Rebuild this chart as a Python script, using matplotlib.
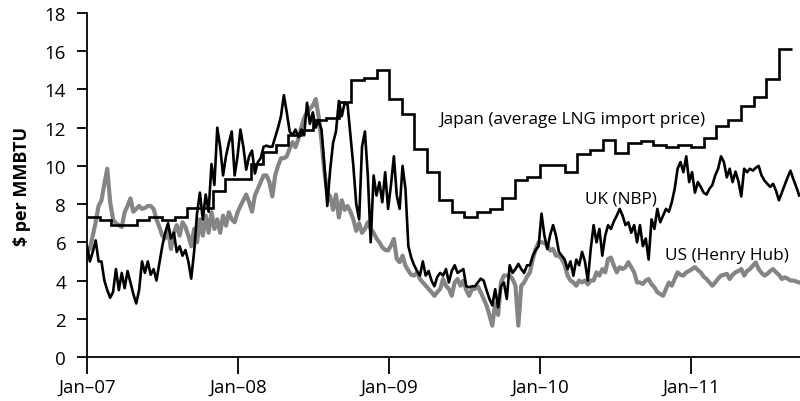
import numpy as np
import pandas as pd
import matplotlib
matplotlib.use("Agg")
import matplotlib.pyplot as plt
import matplotlib.dates as mdates

plt.rcParams['font.family'] = ['Open Sans', 'DejaVu Sans']

# Japan average LNG import price, monthly, Jan-07 .. Aug-11
japan = [7.33, 7.15, 6.9, 6.9, 7.15, 7.33, 7.15, 7.3, 7.8, 7.8, 8.7, 9.3,
         9.3, 10.1, 10.7, 11.1, 11.6, 11.9, 12.4, 12.5, 13.35, 14.5, 14.6, 15.0,
         13.5, 12.7, 10.9, 9.7, 8.2, 7.6, 7.3, 7.6, 7.75, 8.3, 9.27, 9.4,
         10.07, 10.07, 9.7, 10.6, 10.85, 11.36, 10.66, 11.18, 11.3, 11.1, 11.0, 11.1,
         10.98, 11.47, 12.1, 12.4, 13.15, 13.6, 14.55, 16.1]

# UK NBP, weekly from first week of Jan-07
uk = [5.8, 5.0, 5.5, 6.1, 5.0, 5.0, 4.0, 3.5, 3.1, 3.4,
      4.6, 3.5, 4.4, 3.6, 4.5, 3.9, 3.3, 2.8, 3.5, 5.0,
      4.4, 5.0, 4.3, 4.6, 4.0, 4.9, 5.8, 6.5, 7.0, 6.2,
      6.5, 5.5, 5.8, 5.3, 5.6, 5.0, 4.1, 5.5, 7.5, 8.6,
      7.2, 8.5, 7.6, 10.1, 9.0, 12.0, 11.0, 9.5, 10.5, 11.2,
      11.8, 9.5, 10.5, 11.9, 11.0, 9.8, 10.5, 10.8, 9.6, 10.2,
      10.4, 11.0, 11.06, 11.0, 11.0, 11.5, 12.0, 12.6, 13.7, 12.8,
      11.8, 11.6, 11.9, 11.5, 11.9, 11.6, 13.3, 12.2, 12.8, 12.0,
      12.4, 11.9, 10.0, 7.9, 9.8, 11.2, 11.8, 13.4, 12.6, 13.3,
      13.2, 11.6, 10.0, 8.0, 7.2, 11.0, 11.8, 9.5, 6.0, 9.5,
      8.45, 9.15, 8.1, 9.67, 7.75, 9.0, 10.5, 8.45, 7.75, 10.0,
      8.8, 5.8, 5.2, 4.8, 4.5, 4.26, 5.0, 4.26, 4.5, 4.0,
      3.7, 4.2, 4.4, 4.26, 4.6, 3.9, 4.5, 4.8, 4.4, 4.5,
      4.6, 3.7, 3.65, 3.7, 3.7, 3.9, 4.1, 4.0, 3.5, 3.04,
      2.7, 3.55, 2.6, 3.7, 3.9, 3.04, 4.8, 4.4, 4.6, 4.87,
      4.6, 4.4, 4.8, 4.8, 5.3, 5.6, 5.8, 7.5, 6.35, 5.65,
      6.4, 6.9, 6.35, 5.5, 5.3, 5.1, 4.6, 5.0, 4.25, 5.1,
      4.8, 5.5, 5.0, 4.0, 5.65, 6.9, 6.0, 6.7, 5.3, 6.35,
      6.9, 6.7, 7.1, 7.4, 7.75, 7.4, 6.9, 7.05, 6.5, 6.9,
      6.0, 6.9, 5.8, 6.2, 5.1, 7.2, 6.7, 7.75, 7.05, 7.4,
      7.75, 7.6, 8.1, 8.8, 9.85, 10.2, 9.67, 10.5, 9.15, 9.67,
      8.6, 9.15, 8.9, 8.6, 8.5, 8.8, 9.0, 9.5, 9.85, 10.5,
      10.2, 9.4, 9.85, 9.15, 9.7, 9.2, 8.4, 9.85, 9.67, 9.85,
      9.75, 9.9, 10.0, 9.5, 9.23, 9.06, 8.9, 9.06, 8.7, 8.2,
      8.6, 9.0, 9.4, 9.75, 9.3, 8.9, 8.45]

# US Henry Hub, weekly from first week of Jan-07
us = [5.5, 5.65, 6.35, 7.05, 7.9, 8.2, 9.06, 9.85, 8.1, 7.2,
      7.0, 6.9, 6.8, 7.57, 7.9, 8.3, 7.6, 7.75, 7.9, 7.75,
      7.8, 7.9, 7.9, 7.75, 7.2, 6.8, 6.35, 6.2, 6.7, 5.65,
      6.5, 6.9, 6.35, 7.05, 6.8, 6.35, 5.8, 6.7, 6.0, 7.2,
      6.35, 7.4, 6.5, 7.57, 6.7, 7.2, 6.5, 7.4, 6.87, 7.57,
      7.2, 7.05, 7.57, 7.9, 8.2, 8.5, 8.1, 7.6, 8.45, 8.8,
      9.15, 9.5, 9.5, 9.15, 8.4, 9.5, 10.0, 10.4, 10.4, 10.5,
      10.9, 11.24, 10.98, 11.4, 12.0, 12.5, 12.8, 13.0, 13.15, 13.5,
      12.6, 11.3, 9.7, 8.6, 8.4, 7.7, 8.5, 7.3, 8.2, 7.7,
      7.9, 7.6, 7.2, 6.6, 7.0, 6.5, 6.7, 7.05, 6.7, 6.5,
      6.2, 6.0, 5.74, 5.6, 5.57, 5.83, 6.18, 5.13, 4.96, 5.3,
      4.78, 4.52, 4.3, 4.26, 4.43, 4.08, 3.9, 3.73, 3.56, 3.39,
      3.2, 3.4, 3.56, 4.08, 3.73, 3.56, 3.2, 3.9, 4.08, 3.73,
      4.0, 3.5, 3.2, 3.56, 3.56, 3.7, 3.39, 3.04, 2.7, 2.2,
      1.64, 2.8, 2.2, 3.9, 4.26, 4.26, 4.26, 4.08, 3.73, 1.64,
      3.73, 3.9, 4.2, 4.43, 5.13, 5.65, 6.0, 6.0, 5.97, 5.83,
      5.57, 5.65, 5.3, 5.3, 5.13, 4.8, 4.26, 4.0, 3.9, 3.73,
      4.0, 3.9, 4.0, 3.8, 4.0, 4.0, 4.43, 4.26, 4.6, 4.43,
      5.13, 5.2, 4.78, 4.43, 4.7, 4.6, 4.7, 4.96, 4.7, 4.43,
      3.9, 3.9, 3.82, 4.0, 4.08, 3.8, 3.65, 3.39, 3.3, 3.2,
      3.56, 3.9, 3.73, 4.08, 4.43, 4.3, 4.26, 4.43, 4.5, 4.6,
      4.7, 4.55, 4.43, 4.2, 4.08, 3.9, 3.73, 3.9, 4.1, 4.26,
      4.3, 4.35, 4.08, 4.3, 4.43, 4.5, 4.6, 4.26, 4.5, 4.6,
      4.78, 4.95, 4.6, 4.4, 4.26, 4.35, 4.5, 4.6, 4.43, 4.3,
      4.08, 4.17, 4.1, 4.0, 4.0, 3.95, 3.9]

weeks = pd.date_range("2007-01-01", periods=len(uk), freq="7D")
months = pd.date_range("2007-01-01", periods=len(japan) + 1, freq="MS")

fig = plt.figure(figsize=(8, 4.02), dpi=100)
ax = fig.add_axes([0.10875, 0.1095, 0.89125, 0.8557])

ax.plot(weeks, us, color="#858585", lw=3.0, zorder=2)
ax.plot(weeks, uk, color="black", lw=1.9, zorder=3)
ax.stairs(japan, mdates.date2num(months), baseline=None, color="black", lw=1.9, zorder=4)

ax.set_xlim(pd.Timestamp("2007-01-01"), pd.Timestamp("2011-09-21"))
ax.set_ylim(0, 18)
ax.set_yticks(range(0, 19, 2))
ax.xaxis.set_major_locator(mdates.YearLocator())
ax.xaxis.set_major_formatter(mdates.DateFormatter("%b\u2013%y"))

for s in ["top", "right"]:
    ax.spines[s].set_visible(False)
for s in ["left", "bottom"]:
    ax.spines[s].set_linewidth(1.3)
ax.tick_params(axis="x", length=12, width=1.3, labelsize=13.5, pad=3)
ax.tick_params(axis="y", length=7, width=1.3, labelsize=13.5, pad=8)

ax.set_ylabel("$ per MMBTU", fontsize=13, fontweight="bold", labelpad=10)

ax.text(pd.Timestamp("2009-05-01"), 12.45, "Japan (average LNG import price)", fontsize=12.4, va="center")
ax.text(pd.Timestamp("2010-04-18"), 8.3, "UK (NBP)", fontsize=12.4, va="center")
ax.text(pd.Timestamp("2010-10-30"), 5.35, "US (Henry Hub)", fontsize=12.4, va="center")

fig.savefig("out.png", dpi=100)
